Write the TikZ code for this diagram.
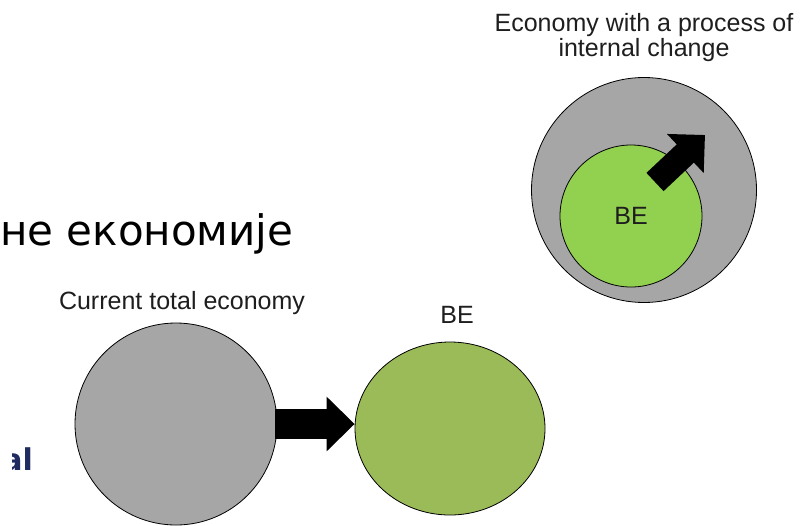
\documentclass[tikz,border=0pt]{standalone}
\usepackage{fontspec}
\setmainfont{Liberation Sans}
\newfontfamily\slidefont{DejaVu Sans}
\usetikzlibrary{arrows.meta,shapes.geometric}

\definecolor{discgray}{RGB}{166,166,166}
\definecolor{olivegreen}{RGB}{155,187,89}
\definecolor{limegreen}{RGB}{146,208,80}
\definecolor{slideblue}{RGB}{32,44,96}
\definecolor{labelgray}{RGB}{30,30,30}

\tikzset{
  disc/.style={circle, draw=black, line width=0.8pt, inner sep=0pt},
  caption/.style={inner sep=0pt, text=labelgray, font=\fontsize{25}{25.5}\selectfont},
  fatarrow/.style={line width=#1, draw=black}
}

\begin{document}
\begin{tikzpicture}[x=1pt,y=-1pt]
        \useasboundingbox [fill=white] (0,0) rectangle (802,525);

        % text of the slide behind the picture
        \node (slidetext) at (0,245) [anchor=base west, inner sep=0pt, font=\slidefont\fontsize{42}{50}\selectfont] {не економије};
        \begin{scope}
            \clip (12,440) rectangle (40,476);
            \node (slidefrag) at (33,470) [anchor=base east, inner sep=0pt, text=slideblue, font=\slidefont\bfseries\fontsize{30}{36}\selectfont] {al};
        \end{scope}

        % economy that changes from within
        \node (whole) at (644,190) [disc, fill=discgray, minimum size=225pt] {};
        \node (grow) at (631,216) [disc, fill=limegreen, minimum size=142pt, font=\fontsize{25}{24}\selectfont, text=labelgray] {BE};
        \coordinate (pushtail) at (655,182);
        \coordinate (pushtip) at (705,135);
        \draw [fatarrow=25pt, -{Triangle[length=27pt,width=52pt]}] (pushtail) -- (pushtip);
        \node (wholecap) at (644,13) [caption, anchor=north, align=center] {Economy with a process of\\internal change};

        % current economy and BE
        \node (now) at (176,424) [disc, fill=discgray, minimum size=202pt] {};
        \node (be) at (450,428.5) [ellipse, draw=black, line width=0.8pt, inner sep=0pt, fill=olivegreen, minimum width=190pt, minimum height=173pt] {};
        \draw [fatarrow=30pt, -{Triangle[length=28pt,width=53pt]}] ([xshift=-2pt]now.east) -- (now.east -| be.west);

        \node (nowcap) at (182,309) [caption, anchor=base] {Current total economy};
        \node (becap) at (457,323) [caption, anchor=base] {BE};
    \end{tikzpicture}
\end{document}
